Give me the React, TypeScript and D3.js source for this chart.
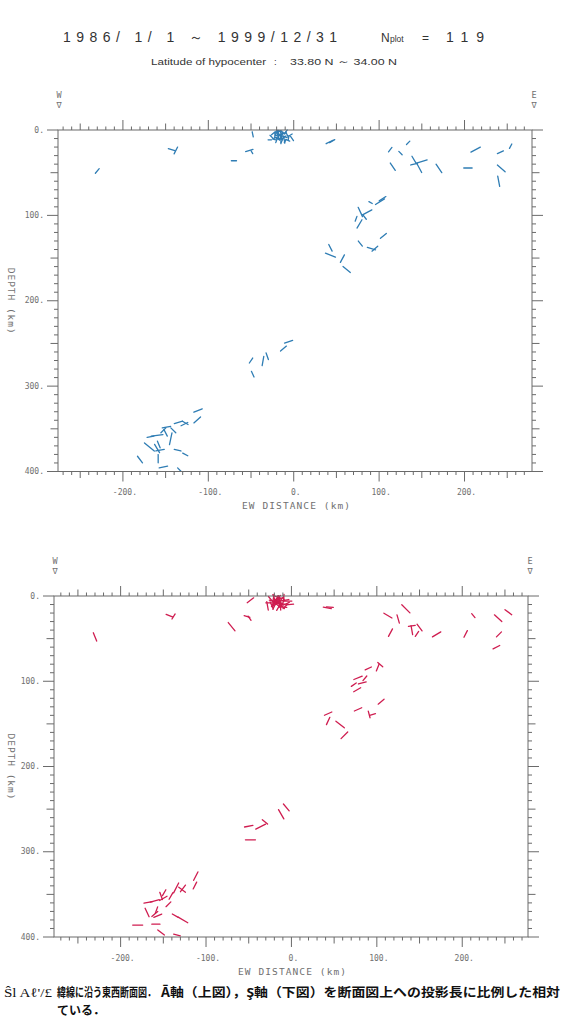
import React from "react";
import * as d3 from "d3";

// ---- hypocenters: EW distance (km) and depth (km)
const eventDist = [
  -230, -143, -138, -70, -52, -49, -48, 42, 45, 113, 134, 125, 116, 141, 150, 147, 141, 170, 204, 213, 242, 254, 243, 240,
  101, 104, 90, 78, 86, 83, 77, 73, 105, 78, 91, 95, 43, 43, 57, 62,
  -50, -48, -36, -31, -12, -6,
  -112, -113, -135, -127, -128, -149, -150, -160, -141, -144, -169, -160, -156.5, -158.7, -136, -127, -180, -152.6, -134, -152.6, -158, -167.7,
  -28, -2, -4, -20, -17, -14, -12, -18, -15, -10, -22, -16, -13, -19, -11, -21, -8, -24, -15, -17, -9, -26, -14, -18, -12, -20, -16, -6, -23, -13, -19, -10, -15, -21, -7, -17,
];
const eventDepth = [
  48, 23, 24, 36, 24, 26, 5, 14, 13, 23, 15, 27, 43, 35, 37, 44.5, 40, 45, 44.5, 23, 26, 19, 45, 60,
  84, 80.5, 85, 96, 96.5, 102, 110, 104, 124, 133, 139, 139, 138, 146.6, 150.7, 163.4,
  270, 286, 270.6, 265, 256, 248,
  328.6, 339.6, 342.5, 343, 344.5, 348, 354.7, 357.7, 351.8, 361.6, 371.3, 373, 375, 385, 375, 380, 386, 394.7, 397.7, 351.8, 368.4, 359.3,
  11.5, 10, 6, 3, 5, 7, 4, 8, 9, 8, 6, 2, 11, 10, 12, 9, 5, 4, 13, 1, 2, 8, 5, 4, 9, 12, 7, 9, 11, 3, 6, 13, 4, 2, 12, 10,
];

// ---- upper panel (blue) axis projection: angle (deg, + = up toward east) and projected length (km)
const upperAngle = [
  50, -17, 63, 0, 17, -60, -78, 27, 30, 52, 45, -45, -56, -59, 17, -62, 14, -56, 0, 28, 24, 62, -41, -79,
  32, 33, -30, -65, 28, -52, 59, 70, 40, -51, -16, 41, -63, -22, 62, -39,
  56, -65, 80, -71, 40, 18,
  22, 42, 16, -30, 26, 11, -63, 8, -45, 78, -40, -59, 11, 90, -14, -28, -53, 11, -45, 45, -68, 10,
  0, -55, 30, 60, -40, 75, 10, -70, 45, -20, 85, -10, 65, -30, -80, 20, -65, 40, 90, 0, 55, -45, 20, -85, 35, 70, -55, 80, -15, -35, 15, 60, -75, 50, -25, 5,
];
const upperLength = [
  7, 8, 9, 6, 9, 4, 6, 9, 7, 6.5, 5.5, 5.5, 10.4, 10, 13, 12, 8, 12, 9.8, 12.4, 7.7, 5.8, 12, 12,
  12.4, 9.3, 4.5, 12, 12.4, 6.4, 11.3, 6, 9, 7.5, 10, 8.9, 8.7, 12.6, 10, 11,
  7, 7.3, 11, 8.2, 9, 10,
  10.5, 10.5, 10, 7.6, 8.7, 10, 8.7, 13.8, 8.2, 13.9, 15, 11.3, 10, 9.7, 8, 6.7, 9.7, 10, 5.5, 8.2, 8.4, 8,
  4, 6, 5, 6, 6, 7, 6, 8, 6, 5, 6, 7, 8, 5, 7, 5, 6, 5, 6, 6, 5, 5, 8, 7, 7, 6, 9, 5, 4, 6, 5, 4, 6, 4, 5, 6,
];

// ---- lower panel (red) axis projection
const lowerAngle = [
  -68, -22, 58, -51, -16, -55, 37, -10, -5, -31, -45, -74, 62, 8, -53, 56, -80, 31, 63, -50, -42, -37, 45, 27,
  68, -40, 25, 22, 50, 15, 30, 35, 40, 24, -75, 15, 24, 65, -38, 45,
  11, 0, 27, -40, -60, -50,
  63, 63, 63, 53, -37, 60, 30, 15, 60, 45, -65, 40, 22, 0, -30, -30, 0, -37, -14, -70, 70, 10,
  -80, 5, 0, -70, 80, -30, 50, 20, -60, 70, -15, 40, -85, 30, -45, 75, 10, -50, 60, -20, 85, 0, -75, 35, -10, 65, -35, 25, -65, 15, 55, -5, -85, 80, 45, -40,
];
const lowerLength = [
  10.5, 8, 7, 12.5, 7, 6, 9.5, 9.5, 8, 11, 13.5, 10, 10, 8, 9.8, 7, 10.6, 11.4, 8.7, 6, 11.6, 9.8, 8.3, 8.7,
  8.4, 7.6, 8, 10.5, 7, 9.4, 9.4, 7, 9, 9.4, 8, 7, 9.4, 9.4, 12.5, 11,
  10, 11.7, 12.9, 8, 12.5, 10.5,
  11, 9, 13, 9.7, 9.8, 8, 10, 11, 9, 8, 11, 9, 10, 9.5, 8, 13, 11.7, 9.7, 8, 9, 8, 10,
  10, 9, 9, 10, 10, 9, 8, 9, 10, 9, 8, 8, 11, 10, 8, 8, 10, 9, 9, 9, 8, 8, 11, 10, 9, 8, 11, 8, 9, 8, 10, 9, 9, 8, 8, 10,
];

// ---- axis ticks
const xTickValues = [-200, -100, 0, 100, 200];
const xTickLabels = ["-200.", "-100.", "0.", "100.", "200."];
const yTickValues = [0, 100, 200, 300, 400];
const yTickLabels = ["0.", "100.", "200.", "300.", "400."];

const AXIS = "#6a6a6a";
const LABEL = "#707070";
const MONO = "'DejaVu Sans Mono', 'Liberation Mono', monospace";

type PanelProps = {
  top: number;
  bottom: number;
  left: number;
  right: number;
  domain: [number, number];
  angles: number[];
  lengths: number[];
  color: string;
};

function Panel({ top, bottom, left, right, domain, angles, lengths, color }: PanelProps) {
  const x = d3.scaleLinear().domain(domain).range([left, right]);
  const y = d3.scaleLinear().domain([0, 400]).range([top, bottom]);
  const xt = d3.range(-270, 280, 10).filter((v) => v >= domain[0] && v <= domain[1]);
  const yt = d3.range(0, 410, 10);
  const tl = (v: number) => (v % 100 === 0 ? 10 : v % 50 === 0 ? 6.5 : 3.5);
  const yl = (v: number) => (v % 100 === 0 ? 11 : v % 50 === 0 ? 7.5 : 4);

  const segs = eventDist.map((d, i) => {
    const a = (angles[i] * Math.PI) / 180;
    const h = lengths[i] / 2;
    const dx = h * Math.cos(a);
    const dz = -h * Math.sin(a);
    return {
      x1: x(d - dx),
      y1: y(eventDepth[i] - dz),
      x2: x(d + dx),
      y2: y(eventDepth[i] + dz),
    };
  });

  const cx = (left + right) / 2;
  const cy = (top + bottom) / 2;
  return (
    <g>
      <g stroke={color} strokeWidth={1.3} strokeLinecap="round" fill="none">
        {segs.map((s, i) => (
          <line key={i} x1={s.x1} y1={s.y1} x2={s.x2} y2={s.y2} />
        ))}
      </g>
      <g stroke={AXIS} strokeWidth={1} fill="none">
        <rect x={left} y={top} width={right - left} height={bottom - top} />
        {xt.map((v) => (
          <g key={v}>
            <line x1={x(v)} x2={x(v)} y1={top} y2={top - tl(v)} />
            <line x1={x(v)} x2={x(v)} y1={bottom} y2={bottom + tl(v)} />
          </g>
        ))}
        {yt.map((v) => (
          <g key={v}>
            <line x1={left} x2={left - yl(v)} y1={y(v)} y2={y(v)} />
            <line x1={right} x2={right + yl(v)} y1={y(v)} y2={y(v)} />
          </g>
        ))}
      </g>
      <g fontFamily={MONO} fontSize={8} fill={LABEL}>
        {yTickValues.map((v, i) => (
          <text key={v} x={left - 14} y={y(v)} textAnchor="end" dominantBaseline="middle">
            {yTickLabels[i]}
          </text>
        ))}
        {xTickValues.map((v, i) => (
          <text key={v} x={x(v) + 2} y={bottom + 21} textAnchor="middle" dominantBaseline="middle">
            {xTickLabels[i]}
          </text>
        ))}
        <text x={cx + 1} y={bottom + 35} textAnchor="middle" dominantBaseline="middle" fontSize={9.5}
          textLength={108} lengthAdjust="spacing">
          EW DISTANCE (km)
        </text>
        <text transform={`translate(10,${cy}) rotate(90)`} textAnchor="middle" dominantBaseline="middle"
          fontSize={9.5} textLength={66} lengthAdjust="spacing">
          DEPTH (km)
        </text>
        <text x={left + 1} y={top - 35} textAnchor="middle" dominantBaseline="middle" fontSize={8.5}>W</text>
        <text x={left + 1} y={top - 25} textAnchor="middle" dominantBaseline="middle" fontSize={8.5}>∇</text>
        <text x={right + 2} y={top - 35} textAnchor="middle" dominantBaseline="middle" fontSize={8.5}>E</text>
        <text x={right + 2} y={top - 25} textAnchor="middle" dominantBaseline="middle" fontSize={8.5}>∇</text>
      </g>
    </g>
  );
}

export default function App() {
  const W = 562;
  const H = 1019;
  return (
    <svg width={W} height={H} viewBox={`0 0 ${W} ${H}`}
      style={{ position: "absolute", left: 0, top: 0, background: "#fff" }}>
      <rect width={W} height={H} fill="#fff" />
      <g fontFamily="'Liberation Sans', Arial, sans-serif" fill="#333">
        <text x={63} y={42} fontSize={14} textLength={274} lengthAdjust="spacing">1986/ 1/ 1 ～ 1999/12/31</text>
        <text x={381} y={42} fontSize={12}>N</text>
        <text x={390} y={42} fontSize={8.5}>plot</text>
        <text x={422} y={42} fontSize={12}>=</text>
        <text x={446} y={42} fontSize={14} textLength={38} lengthAdjust="spacing">119</text>
        <text x={151} y={65} fontSize={9.5} textLength={115} lengthAdjust="spacingAndGlyphs">
          Latitude of hypocenter
        </text>
        <text x={274} y={65} fontSize={9.5}>:</text>
        <text x={290} y={65} fontSize={9.5} textLength={107} lengthAdjust="spacingAndGlyphs">
          33.80 N ～ 34.00 N
        </text>
      </g>
      <Panel top={130} bottom={471.5} left={58} right={532} domain={[-276, 279]}
        angles={upperAngle} lengths={upperLength} color="#2f7db4" />
      <Panel top={596} bottom={937} left={54} right={528} domain={[-278, 277]}
        angles={lowerAngle} lengths={lowerLength} color="#cf1d50" />
      <g fill="#111" fontWeight={700} fontSize={12}
        fontFamily="'Noto Sans CJK JP', 'Noto Sans', sans-serif">
        <text x={4} y={997} fontFamily="'Liberation Serif', serif" fontWeight={400} fontSize={13}
          textLength={48} lengthAdjust="spacingAndGlyphs">Ŝl Aℓ'/£</text>
        <text x={57} y={997} textLength={99} lengthAdjust="spacingAndGlyphs">緯線に沿う東西断面図．</text>
        <text x={161} y={997} fontSize={12.5} textLength={399} lengthAdjust="spacingAndGlyphs">
          Ā軸（上図），Ş軸（下図）を断面図上への投影長に比例した相対
        </text>
        <text x={57} y={1015}>ている．</text>
      </g>
    </svg>
  );
}
